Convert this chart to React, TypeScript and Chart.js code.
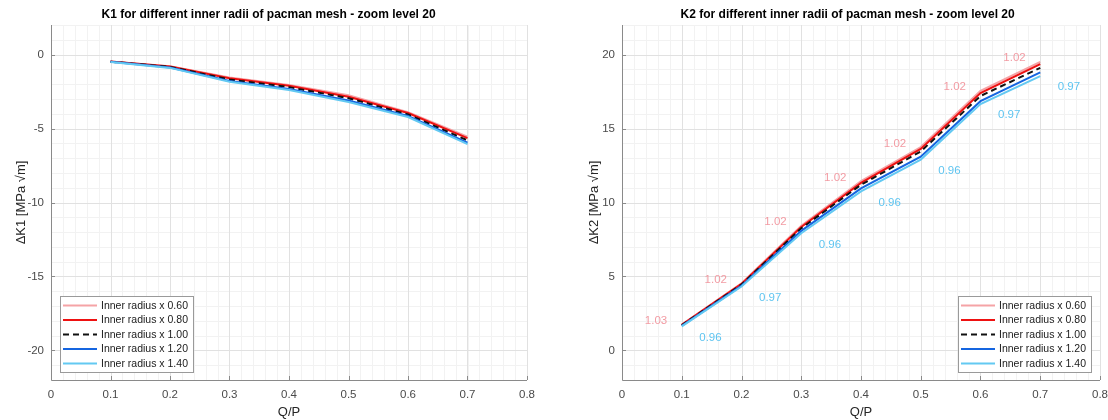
import { useEffect, useRef } from "react";
import { Chart, registerables } from "chart.js";

Chart.register(...registerables);

// Load ratio Q/P at which the stress intensity factors were evaluated
const qOverP = [0.1, 0.2, 0.3, 0.4, 0.5, 0.6, 0.7];

// Inner radius scale factors of the pacman mesh
const radiusFactors = ["0.60", "0.80", "1.00", "1.20", "1.40"];

// ΔK1 [MPa √m] for each inner radius factor
const k1Radius060 = [-0.46, -0.78, -1.55, -2.05, -2.75, -3.9, -5.55];
const k1Radius080 = [-0.47, -0.8, -1.6, -2.1, -2.85, -3.95, -5.65];
const k1Radius100 = [-0.48, -0.83, -1.68, -2.2, -2.95, -4.05, -5.8];
const k1Radius120 = [-0.49, -0.87, -1.78, -2.32, -3.1, -4.15, -5.95];
const k1Radius140 = [-0.5, -0.9, -1.83, -2.4, -3.2, -4.22, -6.05];

// ΔK2 [MPa √m] for each inner radius factor
const k2Radius060 = [1.75, 4.54, 8.42, 11.45, 13.75, 17.55, 19.5];
const k2Radius080 = [1.73, 4.5, 8.35, 11.33, 13.62, 17.4, 19.35];
const k2Radius100 = [1.7, 4.45, 8.25, 11.2, 13.45, 17.2, 19.1];
const k2Radius120 = [1.66, 4.38, 8.08, 10.95, 13.1, 16.85, 18.8];
const k2Radius140 = [1.63, 4.32, 7.92, 10.75, 12.9, 16.65, 18.55];

// Axis tick values
const xTicks = [0, 0.1, 0.2, 0.3, 0.4, 0.5, 0.6, 0.7, 0.8];
const k1Ticks = [-20, -15, -10, -5, 0];
const k2Ticks = [0, 5, 10, 15, 20];

const FONT = "'Liberation Sans', Arial, Helvetica, sans-serif";
const seriesColors = ["#f5a3a6", "#ee1111", "#111111", "#1565e0", "#63c9f2"];
const seriesDash: number[][] = [[], [], [6, 4], [], []];
const TICK_COLOR = "#4a4a4a";
const AXIS_COLOR = "#8a8a8a";

type PanelSpec = {
  title: string;
  yTitle: string;
  series: number[][];
  yMin: number;
  yMax: number;
  yTicks: number[];
  yAxisWidth: number;
  yTitlePad: number;
  padRight: number;
  titleFrac: number;
  legendSide: "left" | "right";
  ratioLabels: boolean;
};

// MATLAB-like grid (major + minor) drawn under the lines
const gridPlugin = {
  id: "matlabGrid",
  beforeDatasetsDraw(chart: any) {
    const { ctx, chartArea, scales } = chart;
    const { left, right, top, bottom } = chartArea;
    const x = scales.x;
    const y = scales.y;
    const lines = (scale: any, step: number, horiz: boolean, color: string) => {
      const n = Math.round((scale.max - scale.min) / step);
      ctx.strokeStyle = color;
      ctx.lineWidth = 1;
      ctx.beginPath();
      for (let i = 0; i <= n; i++) {
        const v = scale.min + i * step;
        const p = Math.round(scale.getPixelForValue(v)) + 0.5;
        if (horiz) {
          ctx.moveTo(left, p);
          ctx.lineTo(right, p);
        } else {
          ctx.moveTo(p, top);
          ctx.lineTo(p, bottom);
        }
      }
      ctx.stroke();
    };
    ctx.save();
    lines(x, 0.02, false, "#f2f2f2");
    lines(y, 1, true, "#f2f2f2");
    ctx.strokeStyle = "#e1e1e1";
    ctx.beginPath();
    for (const t of x.ticks) {
      const p = Math.round(x.getPixelForValue(t.value)) + 0.5;
      ctx.moveTo(p, top);
      ctx.lineTo(p, bottom);
    }
    for (const t of y.ticks) {
      const p = Math.round(y.getPixelForValue(t.value)) + 0.5;
      ctx.moveTo(left, p);
      ctx.lineTo(right, p);
    }
    ctx.stroke();
    ctx.restore();
  },
};

// Axis lines with inward tick marks, ratio annotations, legend box and title
const overlayPlugin = {
  id: "matlabOverlay",
  afterDatasetsDraw(chart: any, _args: any, opts: any) {
    const { ctx, chartArea, scales } = chart;
    const { left, right, top, bottom } = chartArea;
    const x = scales.x;
    const y = scales.y;
    ctx.save();

    // ratio labels relative to the 1.00 radius result
    if (opts.ratioLabels) {
      const ds = chart.data.datasets;
      const ref = ds[2].data;
      ctx.font = `11.5px ${FONT}`;
      ctx.textAlign = "center";
      ctx.textBaseline = "middle";
      ds[0].data.forEach((pt: any, i: number) => {
        const txt = (pt.y / ref[i].y).toFixed(2);
        ctx.fillStyle = "#f29ba3";
        ctx.fillText(txt, x.getPixelForValue(pt.x - 0.043), y.getPixelForValue(pt.y + 0.25));
      });
      ds[4].data.forEach((pt: any, i: number) => {
        const txt = (pt.y / ref[i].y).toFixed(2);
        ctx.fillStyle = "#5ec4f0";
        ctx.fillText(txt, x.getPixelForValue(pt.x + 0.048), y.getPixelForValue(pt.y - 0.75));
      });
    }

    // axis lines (left and bottom only)
    ctx.strokeStyle = AXIS_COLOR;
    ctx.lineWidth = 1;
    ctx.beginPath();
    ctx.moveTo(left + 0.5, top);
    ctx.lineTo(left + 0.5, bottom + 0.5);
    ctx.lineTo(right, bottom + 0.5);
    for (const t of x.ticks) {
      const p = Math.round(x.getPixelForValue(t.value)) + 0.5;
      ctx.moveTo(p, bottom);
      ctx.lineTo(p, bottom - 4);
    }
    for (const t of y.ticks) {
      const p = Math.round(y.getPixelForValue(t.value)) + 0.5;
      ctx.moveTo(left, p);
      ctx.lineTo(left + 4, p);
    }
    ctx.stroke();

    // legend
    const boxW = 133;
    const boxH = 76;
    const bx = opts.legendSide === "left" ? Math.round(left) + 9 : Math.round(right) - 9 - boxW;
    const by = Math.round(bottom) - 8 - boxH;
    ctx.fillStyle = "#ffffff";
    ctx.fillRect(bx, by, boxW, boxH);
    ctx.strokeStyle = "#9a9a9a";
    ctx.strokeRect(bx + 0.5, by + 0.5, boxW, boxH);
    ctx.font = `10.5px ${FONT}`;
    ctx.textAlign = "left";
    ctx.textBaseline = "middle";
    chart.data.datasets.forEach((d: any, i: number) => {
      const ry = by + 9.5 + i * 14.5;
      ctx.strokeStyle = d.borderColor;
      ctx.lineWidth = 2;
      ctx.setLineDash(d.borderDash || []);
      ctx.beginPath();
      ctx.moveTo(bx + 3, ry);
      ctx.lineTo(bx + 37, ry);
      ctx.stroke();
      ctx.setLineDash([]);
      ctx.fillStyle = "#1a1a1a";
      ctx.fillText(d.label, bx + 41, ry + 0.5);
    });

    // title
    ctx.font = `bold 12px ${FONT}`;
    ctx.fillStyle = "#000000";
    ctx.textAlign = "center";
    ctx.textBaseline = "middle";
    ctx.fillText(opts.title, left + (right - left) * opts.titleFrac, 15);
    ctx.restore();
  },
};

function Panel({ spec }: { spec: PanelSpec }) {
  const ref = useRef<HTMLCanvasElement | null>(null);

  useEffect(() => {
    if (!ref.current) return;
    const datasets = spec.series.map((vals, i) => ({
      label: `Inner radius x ${radiusFactors[i]}`,
      data: qOverP.map((q, j) => ({ x: q, y: vals[j] })),
      borderColor: seriesColors[i],
      backgroundColor: seriesColors[i],
      borderDash: seriesDash[i],
      borderWidth: 2,
      pointRadius: 0,
      tension: 0,
      fill: false,
      order: spec.series.length - i,
    }));

    const chart = new Chart(ref.current, {
      type: "line",
      data: { datasets },
      plugins: [gridPlugin, overlayPlugin],
      options: {
        animation: false,
        responsive: false,
        devicePixelRatio: 1,
        layout: { padding: { left: 0, right: spec.padRight, top: 25, bottom: 0 } },
        plugins: {
          legend: { display: false },
          tooltip: { enabled: false },
          title: { display: false },
          matlabOverlay: {
            title: spec.title,
            titleFrac: spec.titleFrac,
            legendSide: spec.legendSide,
            ratioLabels: spec.ratioLabels,
          },
        } as any,
        scales: {
          x: {
            type: "linear",
            min: 0,
            max: 0.8,
            grid: { display: false, drawTicks: false },
            border: { display: false },
            afterBuildTicks: (s: any) => {
              s.ticks = xTicks.map((v) => ({ value: v }));
            },
            afterFit: (s: any) => {
              s.height = 40;
              s.paddingLeft = 0;
              s.paddingRight = 0;
            },
            ticks: {
              autoSkip: false,
              maxRotation: 0,
              padding: 8,
              color: TICK_COLOR,
              font: { family: FONT, size: 11.5 },
              callback: (v: any) => String(Number(Number(v).toFixed(1))),
            },
            title: {
              display: true,
              text: "Q/P",
              color: "#262626",
              font: { family: FONT, size: 13 },
              padding: { top: 0, bottom: 0 },
            },
          },
          y: {
            type: "linear",
            min: spec.yMin,
            max: spec.yMax,
            grid: { display: false, drawTicks: false },
            border: { display: false },
            afterBuildTicks: (s: any) => {
              s.ticks = spec.yTicks.map((v) => ({ value: v }));
            },
            afterFit: (s: any) => {
              s.width = spec.yAxisWidth;
              s.paddingTop = 0;
              s.paddingBottom = 0;
            },
            ticks: {
              autoSkip: false,
              padding: 7,
              color: TICK_COLOR,
              font: { family: FONT, size: 11.5 },
              callback: (v: any) => String(v),
            },
            title: {
              display: true,
              text: spec.yTitle,
              color: "#262626",
              font: { family: FONT, size: 13 },
              padding: { top: spec.yTitlePad, bottom: 0 },
            },
          },
        },
      },
    });
    return () => chart.destroy();
  }, [spec]);

  return <canvas ref={ref} width={554} height={420} style={{ display: "block" }} />;
}

const k1Panel: PanelSpec = {
  title: "K1 for different inner radii of pacman mesh - zoom level 20",
  yTitle: "ΔK1 [MPa √m]",
  series: [k1Radius060, k1Radius080, k1Radius100, k1Radius120, k1Radius140],
  yMin: -22,
  yMax: 2,
  yTicks: k1Ticks,
  yAxisWidth: 51,
  yTitlePad: 14,
  padRight: 27,
  titleFrac: 0.457,
  legendSide: "left",
  ratioLabels: false,
};

const k2Panel: PanelSpec = {
  title: "K2 for different inner radii of pacman mesh - zoom level 20",
  yTitle: "ΔK2 [MPa √m]",
  series: [k2Radius060, k2Radius080, k2Radius100, k2Radius120, k2Radius140],
  yMin: -2,
  yMax: 22,
  yTicks: k2Ticks,
  yAxisWidth: 68,
  yTitlePad: 33,
  padRight: 8,
  titleFrac: 0.472,
  legendSide: "right",
  ratioLabels: true,
};

export default function App() {
  return (
    <div
      style={{
        position: "absolute",
        left: 0,
        top: 0,
        width: 1108,
        height: 420,
        background: "#ffffff",
        overflow: "hidden",
      }}
    >
      <div style={{ position: "absolute", left: 0, top: 0 }}>
        <Panel spec={k1Panel} />
      </div>
      <div style={{ position: "absolute", left: 554, top: 0 }}>
        <Panel spec={k2Panel} />
      </div>
    </div>
  );
}
